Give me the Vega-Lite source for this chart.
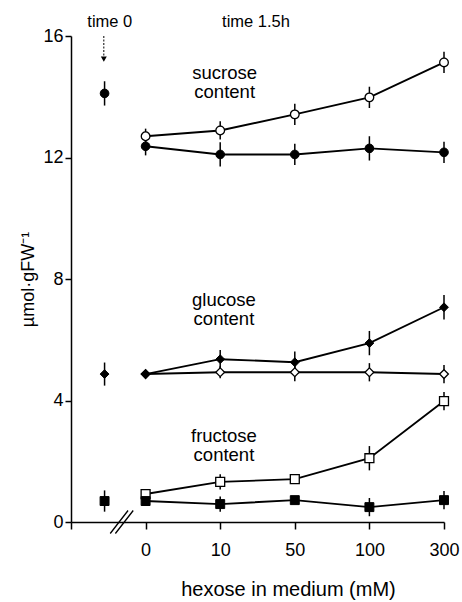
{
  "$schema": "https://vega.github.io/schema/vega-lite/v6.json",
  "width": 373,
  "height": 486,
  "autosize": {"type": "none"},
  "padding": {"left": 71, "top": 36, "right": 18, "bottom": 80},
  "background": "white",
  "config": {
    "view": {"stroke": null},
    "font": "Liberation Sans",
    "axis": {
      "grid": false,
      "domainColor": "black",
      "domainWidth": 1.5,
      "tickColor": "black",
      "tickWidth": 1.5,
      "labelColor": "black",
      "titleColor": "black",
      "labelFont": "Liberation Sans",
      "titleFont": "Liberation Sans",
      "titleFontWeight": "normal",
      "labelFlush": false,
      "labelOverlap": false
    }
  },
  "datasets": {
    "points": [
      {"sugar": "sucrose", "treatment": "initial", "pos": -0.55, "value": 14.11, "err": 0.4},
      {"sugar": "sucrose", "treatment": "A", "pos": 0, "value": 12.7, "err": 0.25},
      {"sugar": "sucrose", "treatment": "A", "pos": 1, "value": 12.89, "err": 0.3},
      {"sugar": "sucrose", "treatment": "A", "pos": 2, "value": 13.42, "err": 0.35},
      {"sugar": "sucrose", "treatment": "A", "pos": 3, "value": 13.98, "err": 0.35},
      {"sugar": "sucrose", "treatment": "A", "pos": 4, "value": 15.13, "err": 0.35},
      {"sugar": "sucrose", "treatment": "B", "pos": 0, "value": 12.37, "err": 0.3},
      {"sugar": "sucrose", "treatment": "B", "pos": 1, "value": 12.1, "err": 0.4},
      {"sugar": "sucrose", "treatment": "B", "pos": 2, "value": 12.1, "err": 0.35},
      {"sugar": "sucrose", "treatment": "B", "pos": 3, "value": 12.3, "err": 0.4},
      {"sugar": "sucrose", "treatment": "B", "pos": 4, "value": 12.17, "err": 0.35},
      {"sugar": "glucose", "treatment": "initial", "pos": -0.55, "value": 4.87, "err": 0.38},
      {"sugar": "glucose", "treatment": "A", "pos": 0, "value": 4.87, "err": 0.1},
      {"sugar": "glucose", "treatment": "A", "pos": 1, "value": 4.93, "err": 0.2},
      {"sugar": "glucose", "treatment": "A", "pos": 2, "value": 4.93, "err": 0.3},
      {"sugar": "glucose", "treatment": "A", "pos": 3, "value": 4.93, "err": 0.3},
      {"sugar": "glucose", "treatment": "A", "pos": 4, "value": 4.87, "err": 0.3},
      {"sugar": "glucose", "treatment": "B", "pos": 0, "value": 4.87, "err": 0.1},
      {"sugar": "glucose", "treatment": "B", "pos": 1, "value": 5.36, "err": 0.3},
      {"sugar": "glucose", "treatment": "B", "pos": 2, "value": 5.26, "err": 0.35},
      {"sugar": "glucose", "treatment": "B", "pos": 3, "value": 5.89, "err": 0.4},
      {"sugar": "glucose", "treatment": "B", "pos": 4, "value": 7.07, "err": 0.4},
      {"sugar": "fructose", "treatment": "initial", "pos": -0.55, "value": 0.69, "err": 0.35},
      {"sugar": "fructose", "treatment": "A", "pos": 0, "value": 0.92, "err": 0.1},
      {"sugar": "fructose", "treatment": "A", "pos": 1, "value": 1.32, "err": 0.25},
      {"sugar": "fructose", "treatment": "A", "pos": 2, "value": 1.41, "err": 0.1},
      {"sugar": "fructose", "treatment": "A", "pos": 3, "value": 2.1, "err": 0.4},
      {"sugar": "fructose", "treatment": "A", "pos": 4, "value": 3.98, "err": 0.3},
      {"sugar": "fructose", "treatment": "B", "pos": 0, "value": 0.69, "err": 0.1},
      {"sugar": "fructose", "treatment": "B", "pos": 1, "value": 0.59, "err": 0.25},
      {"sugar": "fructose", "treatment": "B", "pos": 2, "value": 0.72, "err": 0.1},
      {"sugar": "fructose", "treatment": "B", "pos": 3, "value": 0.49, "err": 0.3},
      {"sugar": "fructose", "treatment": "B", "pos": 4, "value": 0.72, "err": 0.3}
    ],
    "notes": [
      {"note": "sucrose\ncontent", "pos": 1.06, "value": 14.57},
      {"note": "glucose\ncontent", "pos": 1.05, "value": 7.11},
      {"note": "fructose\ncontent", "pos": 1.05, "value": 2.65}
    ],
    "times": [
      {"note": "time 0", "pos": -0.48, "value": 16.3},
      {"note": "time 1.5h", "pos": 1.48, "value": 16.3}
    ]
  },
  "layer": [
    {
      "data": {"name": "points"},
      "transform": [{"filter": "datum.treatment != 'initial'"}],
      "mark": {"type": "line", "color": "black", "strokeWidth": 1.9},
      "encoding": {
        "x": {
          "field": "pos",
          "type": "quantitative",
          "title": "hexose in medium (mM)",
          "scale": {"domain": [-1, 4], "nice": false, "zero": false},
          "axis": {
            "values": [-1, 0, 1, 2, 3, 4],
            "labelExpr": "datum.value == 0 ? '0' : datum.value == 1 ? '10' : datum.value == 2 ? '50' : datum.value == 3 ? '100' : datum.value == 4 ? '300' : ''",
            "titleFontSize": 20,
            "titleX": 217,
            "titleY": 73,
            "titleAlign": "center",
            "titleBaseline": "alphabetic",
            "tickSize": 7,
            "labelFontSize": 18,
            "labelPadding": 12
          }
        },
        "y": {
          "field": "value",
          "type": "quantitative",
          "title": "µmol·gFW⁻¹",
          "scale": {"domain": [0, 16], "nice": false},
          "axis": {
            "values": [0, 4, 8, 12, 16],
            "titleFontSize": 18,
            "titlePadding": 5,
            "tickSize": 6,
            "labelFontSize": 18,
            "labelPadding": 2
          }
        },
        "detail": [{"field": "sugar"}, {"field": "treatment"}]
      }
    },
    {
      "data": {"name": "points"},
      "mark": {"type": "errorbar", "color": "black", "thickness": 1.5},
      "encoding": {
        "x": {"field": "pos", "type": "quantitative", "title": "hexose in medium (mM)"},
        "y": {"field": "value", "type": "quantitative", "title": "µmol·gFW⁻¹"},
        "yError": {"field": "err"}
      }
    },
    {
      "data": {"name": "points"},
      "transform": [{"filter": "datum.treatment == 'A'"}],
      "mark": {"type": "point", "filled": true, "fill": "white", "stroke": "black", "strokeWidth": 1.3, "opacity": 1},
      "encoding": {
        "x": {"field": "pos", "type": "quantitative", "title": "hexose in medium (mM)"},
        "y": {"field": "value", "type": "quantitative", "title": "µmol·gFW⁻¹"},
        "shape": {
          "field": "sugar",
          "type": "nominal",
          "scale": {"domain": ["sucrose", "glucose", "fructose"], "range": ["circle", "diamond", "square"]},
          "legend": null
        },
        "size": {
          "field": "sugar",
          "type": "nominal",
          "scale": {"domain": ["sucrose", "glucose", "fructose"], "range": [75, 80, 70]},
          "legend": null
        }
      }
    },
    {
      "data": {"name": "points"},
      "transform": [{"filter": "datum.treatment != 'A'"}],
      "mark": {"type": "point", "filled": true, "fill": "black", "stroke": "black", "strokeWidth": 1, "opacity": 1},
      "encoding": {
        "x": {"field": "pos", "type": "quantitative", "title": "hexose in medium (mM)"},
        "y": {"field": "value", "type": "quantitative", "title": "µmol·gFW⁻¹"},
        "shape": {"field": "sugar", "type": "nominal", "legend": null},
        "size": {
          "field": "sugar",
          "type": "nominal",
          "scale": {"domain": ["sucrose", "glucose", "fructose"], "range": [85, 95, 80]},
          "legend": null
        }
      }
    },
    {
      "data": {"name": "notes"},
      "mark": {"type": "text", "fontSize": 18.5, "lineBreak": "\n", "lineHeight": 19, "align": "center", "baseline": "alphabetic", "color": "black"},
      "encoding": {
        "x": {"field": "pos", "type": "quantitative", "title": "hexose in medium (mM)"},
        "y": {"field": "value", "type": "quantitative", "title": "µmol·gFW⁻¹"},
        "text": {"field": "note"}
      }
    },
    {
      "data": {"name": "times"},
      "mark": {"type": "text", "fontSize": 16.5, "align": "center", "baseline": "alphabetic", "color": "black"},
      "encoding": {
        "x": {"field": "pos", "type": "quantitative", "title": "hexose in medium (mM)"},
        "y": {"field": "value", "type": "quantitative", "title": "µmol·gFW⁻¹"},
        "text": {"field": "note"}
      }
    },
    {
      "data": {"values": [{"pos": -0.56, "top": 16.0, "bottom": 15.35}]},
      "mark": {"type": "rule", "color": "black", "strokeWidth": 1, "strokeDash": [2, 1.5]},
      "encoding": {
        "x": {"field": "pos", "type": "quantitative", "title": "hexose in medium (mM)"},
        "y": {"field": "top", "type": "quantitative", "title": "µmol·gFW⁻¹"},
        "y2": {"field": "bottom"}
      }
    },
    {
      "data": {"values": [{"pos": -0.56, "value": 15.24}]},
      "mark": {"type": "point", "shape": "triangle-down", "filled": true, "color": "black", "size": 35, "opacity": 1},
      "encoding": {
        "x": {"field": "pos", "type": "quantitative", "title": "hexose in medium (mM)"},
        "y": {"field": "value", "type": "quantitative", "title": "µmol·gFW⁻¹"}
      }
    },
    {
      "data": {"values": [{"pos": -0.32, "value": 0}]},
      "mark": {"type": "point", "shape": "M-1,1L0.55,-1M-0.55,1L1,-1", "filled": false, "stroke": "black", "strokeWidth": 1.3, "size": 529, "opacity": 1},
      "encoding": {
        "x": {"field": "pos", "type": "quantitative", "title": "hexose in medium (mM)"},
        "y": {"field": "value", "type": "quantitative", "title": "µmol·gFW⁻¹"}
      }
    }
  ]
}
